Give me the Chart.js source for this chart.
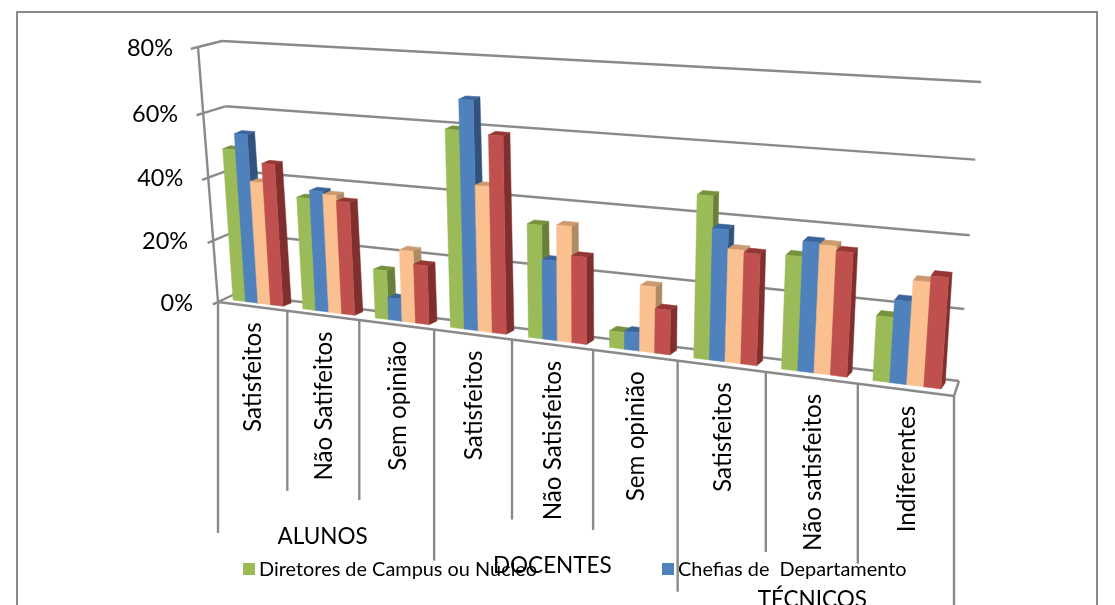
<!DOCTYPE html>
<html><head><meta charset="utf-8">
<style>html,body{margin:0;padding:0;background:#fff;overflow:hidden}canvas{display:block}</style>
<script src="https://cdn.jsdelivr.net/npm/chart.js@4"></script></head>
<body><canvas id="c" width="1115" height="605"></canvas>
<script>
const categories = ['Satisfeitos','Não Satifeitos','Sem opinião','Satisfeitos','Não Satisfeitos','Sem opinião','Satisfeitos','Não satisfeitos','Indiferentes'];
const groupLabels = ['ALUNOS','DOCENTES','TÉCNICOS'];
const yTicks = [0,20,40,60,80];
const diretores = [48.3,35.3,15.3,59.7,34.1,5,47,32.5,18.3];
const chefias   = [53.3,37.8,7,68.6,24,5.5,38,36.8,23.2];
const serie3    = [38.8,37,22.3,44,34.6,19.5,32.6,36.3,29];
const serie4    = [44.8,35.3,18.3,59,26,13.2,32,35,30.8];
const seriesNames = ['Diretores de Campus ou Núcleo','Chefias de  Departamento','Série 3','Série 4'];
const legendShown = [0,1];
const frontColors = ['#9BBB59','#4F81BD','#FAC08F','#C0504D'];
const sideColors  = ['#68803A','#31527C','#B08A64','#7F2F2D'];
const topColors   = ['#76923C','#3A659C','#CB9A70','#953735'];

// Perspective corners, in order: bottom-left, bottom-right, top-right, top-left
function homography(q){
  const [p0,p1,p2,p3]=q;
  const dx1=p1[0]-p2[0],dx2=p3[0]-p2[0],sx=p0[0]-p1[0]+p2[0]-p3[0];
  const dy1=p1[1]-p2[1],dy2=p3[1]-p2[1],sy=p0[1]-p1[1]+p2[1]-p3[1];
  const d=dx1*dy2-dx2*dy1;
  const g=(sx*dy2-dx2*sy)/d,h=(dx1*sy-sx*dy1)/d;
  const a=p1[0]-p0[0]+g*p1[0],b=p3[0]-p0[0]+h*p3[0],c=p0[0];
  const e=p1[1]-p0[1]+g*p1[1],f=p3[1]-p0[1]+h*p3[1],k=p0[1];
  return (u,v)=>{const w=g*u+h*v+1;return [(a*u+b*v+c)/w,(e*u+f*v+k)/w];};
}
const wallFront = homography([[218,302],[954,396],[976,92],[198,47]]);
const wallBack  = homography([[235,294],[959,381],[981,82],[222,41]]);
const barFront  = homography([[223.5,298.8],[954.5,390.7],[976,90],[205.6,44]]);
const barBack   = homography([[231.5,295.8],[958.5,384.7],[978,86],[212.6,41]]);

const LINE='#8A8A8A';
const TICK_FONT='23.5px Lato', CAT_FONT='24.2px Lato', GROUP_FONT='22.5px Lato', LEG_FONT='19.9px Lato';

function poly(ctx,pts,fill){ctx.beginPath();pts.forEach((p,i)=>i?ctx.lineTo(p[0],p[1]):ctx.moveTo(p[0],p[1]));ctx.closePath();ctx.fillStyle=fill;ctx.fill();ctx.strokeStyle=fill;ctx.lineWidth=0.5;ctx.stroke();}
function seg(ctx,a,b){ctx.beginPath();ctx.moveTo(a[0],a[1]);ctx.lineTo(b[0],b[1]);ctx.stroke();}

const perspective={id:'perspective',
  beforeDraw(chart){
    const ctx=chart.ctx;ctx.save();
    ctx.fillStyle='#fff';ctx.fillRect(0,0,1115,605);
    ctx.strokeStyle='#8A8A8A';ctx.lineWidth=2;
    ctx.strokeRect(17,12,1080,640);
    ctx.restore();
  },
  beforeDatasetsDraw(chart){
    const ctx=chart.ctx,xS=chart.scales.x,yS=chart.scales.y;
    const U=px=>(px-xS.left)/xS.width, V=py=>(yS.bottom-py)/yS.height;
    ctx.save();ctx.strokeStyle=LINE;ctx.lineWidth=2.4;ctx.lineCap='butt';
    // walls and grid, one line per y tick
    yS.ticks.forEach(t=>{
      const v=V(yS.getPixelForValue(t.value));
      const f=wallFront(0,v),b=wallBack(0,v),r=wallBack(1,v);
      const stub=[f[0]-(b[0]-f[0])*0.3,f[1]-(b[1]-f[1])*0.3];
      seg(ctx,stub,f);seg(ctx,f,b);seg(ctx,b,r);
    });
    seg(ctx,wallFront(0,0),wallFront(0,1));
    seg(ctx,wallFront(0,0),wallFront(1,0));
    seg(ctx,wallFront(1,0),wallBack(1,0));
    // category separators below the front edge
    const n=categories.length;
    for(let i=0;i<=n;i++){
      const p=wallFront(i/n,0);
      seg(ctx,p,[p[0],p[1]+(i%3===0?231:180)]);
    }
    ctx.restore();
    // bars
    ctx.save();
    for(let i=0;i<n;i++){
      chart.data.datasets.forEach((ds,d)=>{
        const el=chart.getDatasetMeta(d).data[i];
        const u0=U(el.x-el.width/2),u1=U(el.x+el.width/2),v1=V(el.y),v0=V(el.base);
        const a=barFront(u0,v0),b=barFront(u1,v0),c=barFront(u1,v1),e=barFront(u0,v1);
        const b2=barBack(u1,v0),c2=barBack(u1,v1),e2=barBack(u0,v1);
        poly(ctx,[b,b2,c2,c],sideColors[d]);
        poly(ctx,[e,c,c2,e2],topColors[d]);
        poly(ctx,[a,b,c,e],frontColors[d]);
      });
    }
    ctx.restore();
    return false;
  },
  afterDraw(chart){
    const ctx=chart.ctx,yS=chart.scales.y;
    const V=py=>(yS.bottom-py)/yS.height;
    ctx.save();ctx.fillStyle='#000';
    // y tick labels
    ctx.font=TICK_FONT;ctx.textAlign='right';ctx.textBaseline='middle';
    yS.ticks.forEach(t=>{
      const p=wallFront(0,V(yS.getPixelForValue(t.value)));
      ctx.fillText(t.label,p[0]-25,p[1]+1);
    });
    // rotated category labels
    const n=categories.length;
    ctx.font=CAT_FONT;
    categories.forEach((lab,i)=>{
      const l=wallFront(i/n,0),r=wallFront((i+1)/n,0),m=wallFront((i+.5)/n,0);
      ctx.save();ctx.translate((l[0]+r[0])/2+1,m[1]+16);ctx.rotate(-Math.PI/2);
      ctx.textAlign='right';ctx.textBaseline='middle';ctx.fillText(lab,0,0);ctx.restore();
    });
    // group labels
    ctx.font=GROUP_FONT;ctx.textAlign='center';ctx.textBaseline='middle';
    groupLabels.forEach((lab,g)=>{
      const l=wallFront(g*3/n,0),r=wallFront((g*3+3)/n,0),m=wallFront((g*3+1.5)/n,0);
      ctx.fillText(lab,(l[0]+r[0])/2-3.5,m[1]+221.5);
    });
    // legend
    ctx.font=LEG_FONT;ctx.textAlign='left';
    [243,662].forEach((x,k)=>{
      const d=legendShown[k];
      ctx.fillStyle=frontColors[d];ctx.fillRect(x,563,12,12);
      ctx.fillStyle='#000';ctx.fillText(seriesNames[d],x+16,570);
    });
    ctx.restore();
  }
};

new Chart(document.getElementById('c'),{
  type:'bar',
  data:{labels:categories,datasets:[diretores,chefias,serie3,serie4].map((values,d)=>({
    label:seriesNames[d],data:values,backgroundColor:frontColors[d],
    categoryPercentage:0.72,barPercentage:1}))},
  options:{responsive:false,animation:false,
    layout:{padding:{left:200,right:140,top:47,bottom:303}},
    plugins:{legend:{display:false},tooltip:{enabled:false}},
    scales:{
      x:{display:false},
      y:{display:false,min:0,max:80,afterBuildTicks(s){s.ticks=yTicks.map(value=>({value}));},
         ticks:{callback:v=>v+'%'}}
    }},
  plugins:[perspective]
});
</script></body></html>
